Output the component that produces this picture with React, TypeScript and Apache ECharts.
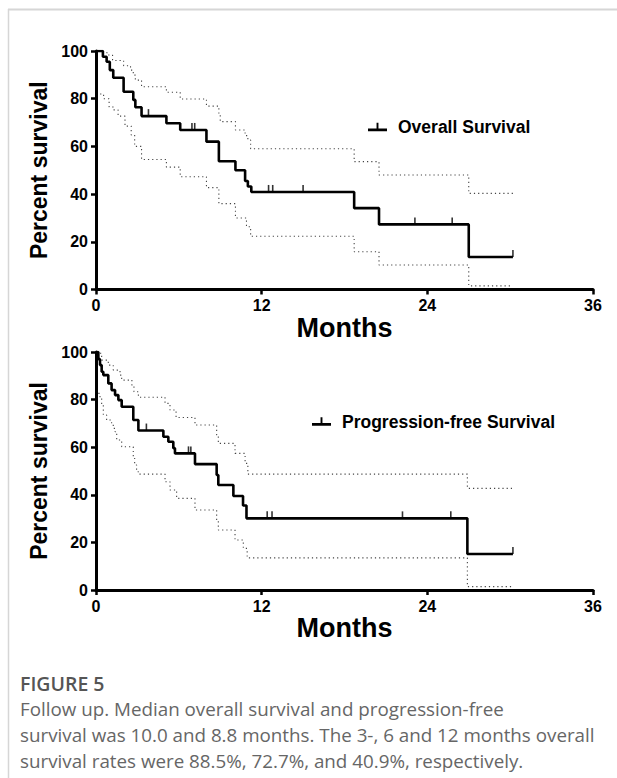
import React, { useEffect, useRef } from "react";
import * as echarts from "echarts";

// ---- Overall survival (top panel) ----
const osCurve: [number, number][] = [
  [0, 100], [0.5, 97.6], [0.77, 95.5], [1.0, 92.0], [1.25, 88.8], [2.0, 82.9],
  [2.7, 79.5], [2.85, 76.4], [3.3, 72.7], [5.1, 69.7], [6.1, 66.9], [8.0, 62.0],
  [8.9, 53.8], [10.1, 50.0], [10.8, 45.5], [11.0, 43.2], [11.25, 40.9],
  [18.7, 34.1], [20.5, 27.3], [27.0, 13.6], [30.2, 13.6],
];
const osUpper: [number, number][] = [
  [0.45, 99.3], [0.8, 98.3], [1.2, 96.0], [2.0, 93.8], [2.5, 92.0], [2.7, 89.9],
  [2.85, 87.8], [3.3, 85.0], [5.1, 82.7], [6.1, 79.9], [8.0, 76.9], [8.9, 73.9],
  [9.0, 70.4], [10.1, 66.9], [10.8, 64.5], [11.0, 62.7], [11.2, 59.0],
  [18.7, 53.6], [20.5, 48.0], [27.0, 40.3], [30.2, 40.3],
];
const osLower: [number, number][] = [
  [0.3, 82.0], [0.55, 80.0], [0.95, 76.5], [1.25, 75.3], [1.6, 72.7], [2.1, 68.5],
  [2.55, 64.8], [2.8, 60.0], [3.3, 54.5], [5.1, 51.3], [6.1, 47.3], [8.0, 42.7],
  [8.9, 36.0], [10.1, 30.0], [10.9, 26.3], [11.2, 22.3], [18.7, 15.8],
  [20.5, 10.3], [27.0, 1.5], [30.2, 1.5],
];
const osCensored: [number, number][] = [
  [3.8, 72.7], [6.95, 66.9], [7.15, 66.9], [12.5, 40.9], [12.8, 40.9],
  [15.0, 40.9], [23.1, 27.3], [25.8, 27.3], [30.2, 13.6],
];

// ---- Progression-free survival (bottom panel) ----
const pfsCurve: [number, number][] = [
  [0, 100], [0.17, 97.0], [0.29, 94.5], [0.41, 91.7], [0.53, 90.3], [0.89, 86.8],
  [1.13, 84.0], [1.38, 81.9], [1.62, 79.8], [1.86, 77.0], [2.7, 71.4], [3.07, 67.0],
  [4.88, 64.4], [5.24, 62.3], [5.6, 59.6], [5.72, 57.4], [7.17, 52.9], [8.74, 48.3],
  [8.86, 44.1], [9.95, 39.5], [10.65, 35.5], [10.9, 30.1], [26.9, 15.1], [30.2, 15.1],
];
const pfsUpper: [number, number][] = [
  [0.29, 99.5], [0.41, 96.6], [0.89, 94.5], [1.25, 92.4], [1.74, 90.3], [1.86, 88.2],
  [2.6, 86.1], [2.75, 83.3], [3.07, 81.0], [5.0, 78.4], [5.36, 75.6], [5.8, 72.5],
  [7.17, 69.3], [8.74, 65.1], [8.86, 61.6], [10.07, 57.4], [10.8, 53.2], [11.0, 48.7],
  [26.9, 42.7], [30.2, 42.7],
];
const pfsLower: [number, number][] = [
  [0.17, 82.6], [0.29, 80.5], [0.41, 77.7], [0.53, 73.5], [0.77, 71.4], [1.13, 70.0],
  [1.25, 67.9], [1.38, 66.5], [1.5, 63.0], [1.86, 60.2], [2.7, 56.0], [2.8, 52.5],
  [2.94, 49.7], [3.07, 48.7], [5.0, 45.5], [5.36, 42.0], [5.84, 38.5], [7.17, 33.6],
  [8.74, 29.4], [8.86, 25.2], [10.07, 21.0], [10.67, 17.5], [10.95, 13.5],
  [26.9, 1.4], [30.2, 1.4],
];
const pfsCensored: [number, number][] = [
  [3.65, 67.0], [6.7, 57.4], [6.87, 57.4], [12.4, 30.1], [12.75, 30.1],
  [22.2, 30.1], [25.7, 30.1], [30.2, 15.1],
];

const xTicks = { min: 0, max: 36, interval: 12 };
const yTicks = { min: 0, max: 100, interval: 20 };
const captionTitle = "FIGURE 5";
const captionLines = [
  "Follow up. Median overall survival and progression-free",
  "survival was 10.0 and 8.8 months. The 3-, 6 and 12 months overall",
  "survival rates were 88.5%, 72.7%, and 40.9%, respectively.",
];
const seriesNames = ["Overall Survival", "Progression-free Survival"];

const FONT = "'Liberation Sans', Arial, sans-serif";

function xAxisCfg(gridIndex: number) {
  return {
    type: "value",
    gridIndex,
    ...xTicks,
    name: "Months",
    nameLocation: "middle",
    nameGap: 22,
    nameTextStyle: { fontFamily: FONT, fontSize: 27, fontWeight: "bold", color: "#000" },
    axisLine: { show: true, onZero: false, lineStyle: { color: "#000", width: 3 } },
    axisTick: { show: true, length: 5, lineStyle: { color: "#000", width: 2.5 } },
    axisLabel: { fontFamily: FONT, fontSize: 16, fontWeight: "bold", color: "#000", margin: 8 },
    splitLine: { show: false },
  };
}
function yAxisCfg(gridIndex: number) {
  return {
    type: "value",
    gridIndex,
    ...yTicks,
    name: "Percent survival",
    nameLocation: "middle",
    nameGap: 42,
    nameTextStyle: { fontFamily: FONT, fontSize: 23, fontWeight: "bold", color: "#000" },
    axisLine: { show: true, onZero: false, lineStyle: { color: "#000", width: 3 } },
    axisTick: { show: true, length: 5, lineStyle: { color: "#000", width: 2.5 } },
    axisLabel: { fontFamily: FONT, fontSize: 16, fontWeight: "bold", color: "#000", margin: 8 },
    splitLine: { show: false },
  };
}

function panelSeries(idx: number, name: string, curve: any, upper: any, lower: any, cens: any) {
  const ci = {
    type: "line",
    xAxisIndex: idx,
    yAxisIndex: idx,
    step: "end",
    symbol: "none",
    silent: true,
    lineStyle: { color: "#444", width: 1.1, type: [1.2, 3] },
    z: 1,
  };
  return [
    { ...ci, name: name + " upper 95% CI", data: upper },
    { ...ci, name: name + " lower 95% CI", data: lower },
    {
      type: "line",
      name,
      xAxisIndex: idx,
      yAxisIndex: idx,
      step: "end",
      symbol: "none",
      data: curve,
      itemStyle: { color: "#000" },
      lineStyle: { color: "#000", width: 2.6 },
      z: 3,
    },
    {
      type: "scatter",
      name: name + " censored",
      xAxisIndex: idx,
      yAxisIndex: idx,
      symbol: "rect",
      symbolSize: [1.6, 7],
      symbolOffset: [0, -3.5],
      itemStyle: { color: "#000" },
      data: cens,
      z: 4,
    },
  ];
}

export default function App() {
  const ref = useRef<HTMLDivElement>(null);
  useEffect(() => {
    if (!ref.current) return;
    const chart = echarts.init(ref.current, undefined, { renderer: "svg" });
    const legendIcon = "path://M0,6h20v3h-20z M9,0h2v6h-2z";
    const legendCfg = (name: string, left: number, top: number) => ({
      data: [name],
      left,
      top,
      padding: 0,
      icon: legendIcon,
      itemWidth: 19,
      itemHeight: 9,
      selectedMode: false,
      textStyle: { fontFamily: FONT, fontSize: 17.5, fontWeight: "bold", color: "#000", padding: [0, 0, 0, 6] },
    });
    chart.setOption({
      animation: false,
      backgroundColor: "#fff",
      grid: [
        { left: 96, width: 497, top: 51, height: 238.5 },
        { left: 96, width: 497, top: 352, height: 238 },
      ],
      xAxis: [xAxisCfg(0), xAxisCfg(1)],
      yAxis: [yAxisCfg(0), yAxisCfg(1)],
      legend: [legendCfg(seriesNames[0], 368, 118), legendCfg(seriesNames[1], 312, 412.5)],
      series: [
        ...panelSeries(0, seriesNames[0], osCurve, osUpper, osLower, osCensored),
        ...panelSeries(1, seriesNames[1], pfsCurve, pfsUpper, pfsLower, pfsCensored),
      ],
      graphic: [
        { type: "line", silent: true, shape: { x1: 8, y1: 9.5, x2: 617, y2: 9.5 }, style: { stroke: "#d6d6d6", lineWidth: 2 } },
        { type: "line", silent: true, shape: { x1: 8.5, y1: 9, x2: 8.5, y2: 778 }, style: { stroke: "#d6d6d6", lineWidth: 1.5 } },
        {
          type: "text",
          x: 20,
          y: 683,
          style: { text: captionTitle, font: "600 19.5px 'Open Sans', sans-serif", fill: "#555", verticalAlign: "middle" },
        },
        ...captionLines.map((t, i) => ({
          type: "text",
          x: 20,
          y: 709 + i * 26,
          style: { text: t, font: "18.8px 'Open Sans', sans-serif", fill: "#666", verticalAlign: "middle" },
        })),
      ],
    });
    return () => chart.dispose();
  }, []);
  return <div ref={ref} style={{ position: "absolute", left: 0, top: 0, width: 617, height: 778 }} />;
}
